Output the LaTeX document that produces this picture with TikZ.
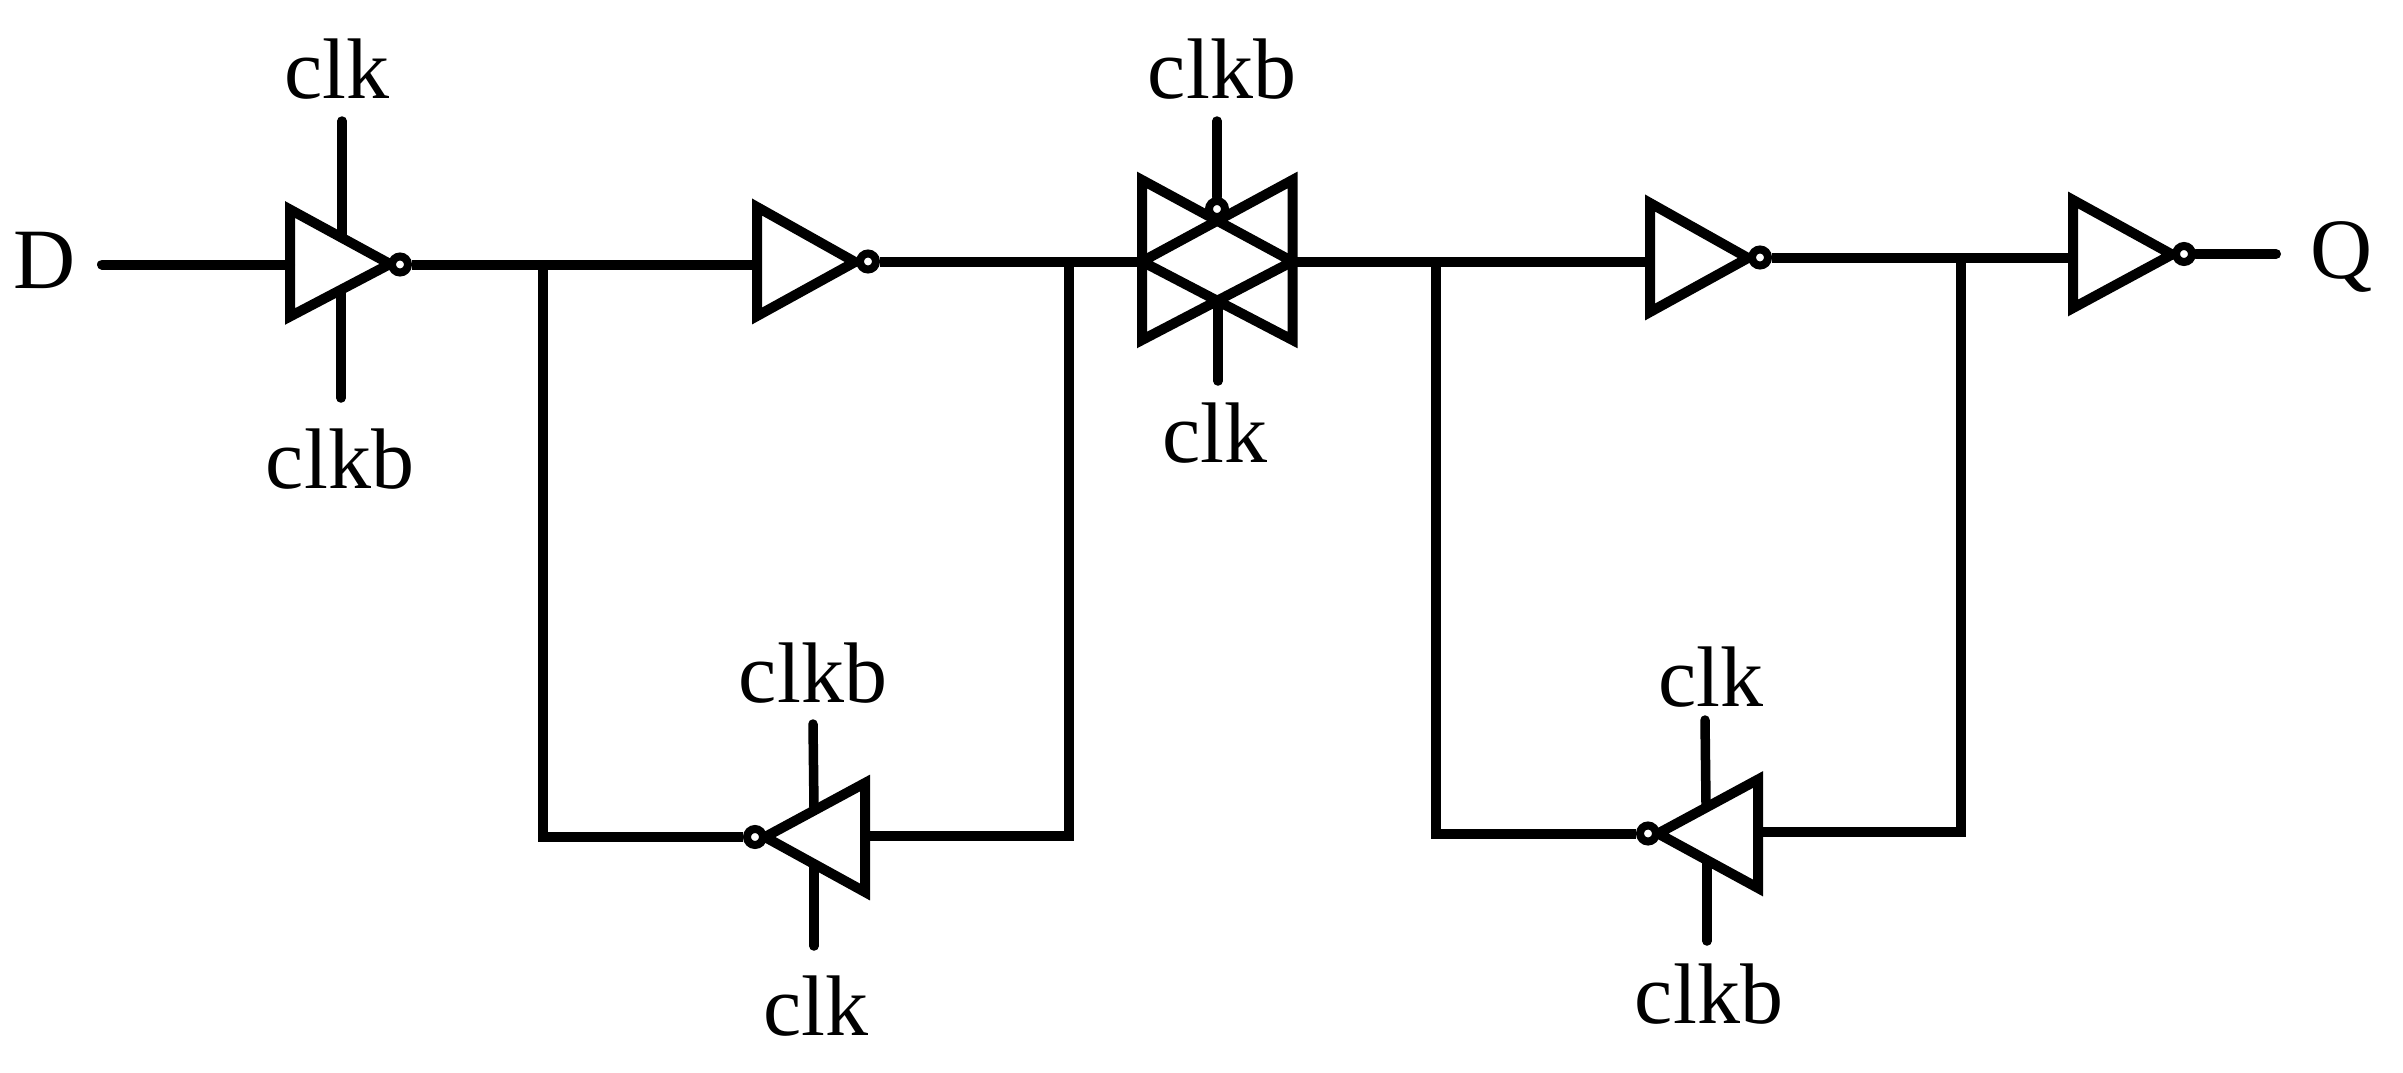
\documentclass[tikz,border=0pt]{standalone}
\usepackage{fontspec}
\setmainfont{Liberation Serif}
\begin{document}
\begin{tikzpicture}[x=1pt,y=-1pt,
  w/.style={line width=10pt,line cap=butt,line join=miter},
  stub/.style={line width=9.5pt,line cap=round},
  gate/.style={line width=10pt,line join=miter,miter limit=10},
  bub/.style={circle,draw,line width=8pt,fill=white,minimum size=16pt,inner sep=0pt},
  lbl/.style={inner sep=0pt,font=\fontsize{86pt}{86pt}\selectfont,anchor=base}]
\useasboundingbox (0,0) rectangle (2403,1072);
% named pins
\coordinate (din) at (102,264.5);
\coordinate (g1in) at (290,264.5);
\coordinate (g2in) at (757,264.5);
\coordinate (j1) at (542.5,264.5);
\coordinate (c1) at (542.5,837);
\coordinate (j2) at (1068.5,261.5);
\coordinate (c2) at (1068.5,835.5);
\coordinate (g3in) at (865,835.5);
\coordinate (tgl) at (1142,261.5);
\coordinate (tgr) at (1292.5,261.5);
\coordinate (g4in) at (1650,261.5);
\coordinate (j3) at (1435.5,261.5);
\coordinate (c3) at (1435.5,833.5);
\coordinate (j4) at (1961,257.5);
\coordinate (c4) at (1961,831.5);
\coordinate (g5in) at (2073,257.5);
\coordinate (g6in) at (1758,831.5);
\coordinate (qend) at (2276,254);
% clocked inverter 1
\draw[gate] (290,209.5) -- (390,264) -- (290,316.5) -- cycle;
\node[bub] (b1) at (400,264.5) {};
% inverter 2
\draw[gate] (757,207) -- (855,262) -- (757,316) -- cycle;
\node[bub] (b2) at (868,261.5) {};
% clocked inverter 3
\draw[gate] (865,783) -- (765,837) -- (865,892) -- cycle;
\node[bub] (b3) at (755,837) {};
% transmission gate
\draw[gate] (1142,180) -- (tgr) -- (1142,340) -- cycle;
\draw[gate] (1292.5,180) -- (tgl) -- (1292.5,340) -- cycle;
\node[bub] (bt) at (1217,209) {};
% inverter 4
\draw[gate] (1650,203) -- (1748,258) -- (1650,312) -- cycle;
\node[bub] (b4) at (1760,257.5) {};
% inverter 5
\draw[gate] (2073,200) -- (2172,254.5) -- (2073,308) -- cycle;
\node[bub] (b5) at (2184,254) {};
% clocked inverter 6
\draw[gate] (1758,779.5) -- (1658,833.5) -- (1758,888) -- cycle;
\node[bub] (b6) at (1648,833.5) {};
% labels
\node[lbl] (tD) at (45,288) {D};
\node[lbl] (tQ) at (2342,278) {Q};
\node[lbl] (t1a) at (337,98) {clk};
\node[lbl] (t1b) at (340,488) {clkb};
\node[lbl] (t3a) at (813,702) {clkb};
\node[lbl] (t3b) at (816,1035) {clk};
\node[lbl] (tta) at (1222,98) {clkb};
\node[lbl] (ttb) at (1215,462) {clk};
\node[lbl] (t6a) at (1711,706) {clk};
\node[lbl] (t6b) at (1709,1023) {clkb};
% clock stubs
\coordinate (s1a) at (342,121); \coordinate (s1ae) at (342,238);
\coordinate (s1b) at (341,398); \coordinate (s1be) at (341,290);
\coordinate (s3a) at (813,724); \coordinate (s3ae) at (814,808);
\coordinate (s3b) at (814,946); \coordinate (s3be) at (814,866);
\coordinate (sta) at (1217,121);
\coordinate (stb) at (1218,381); \coordinate (stbe) at (1218,300);
\coordinate (s6a) at (1705,720); \coordinate (s6ae) at (1706,804);
\coordinate (s6b) at (1707,941); \coordinate (s6be) at (1707,862);
\draw[stub] (s1a) -- (s1ae);
\draw[stub] (s1b) -- (s1be);
\draw[stub] (s3a) -- (s3ae);
\draw[stub] (s3b) -- (s3be);
\draw[stub] (sta) -- (bt);
\draw[stub] (stb) -- (stbe);
\draw[stub] (s6a) -- (s6ae);
\draw[stub] (s6b) -- (s6be);
% wires
\draw[w,line cap=round] (din) -- (g1in);
\draw[w] (b1) -- (g2in);
\draw[w] (j1) -- (c1) -- (b3);
\draw[w] (b2) -- (tgl);
\draw[w] (j2) -- (c2) -- (g3in);
\draw[w] (tgr) -- (g4in);
\draw[w] (j3) -- (c3) -- (b6);
\draw[w] (b4) -- (g5in);
\draw[w] (j4) -- (c4) -- (g6in);
\draw[w,line cap=round] (b5) -- (qend);
\end{tikzpicture}
\end{document}
